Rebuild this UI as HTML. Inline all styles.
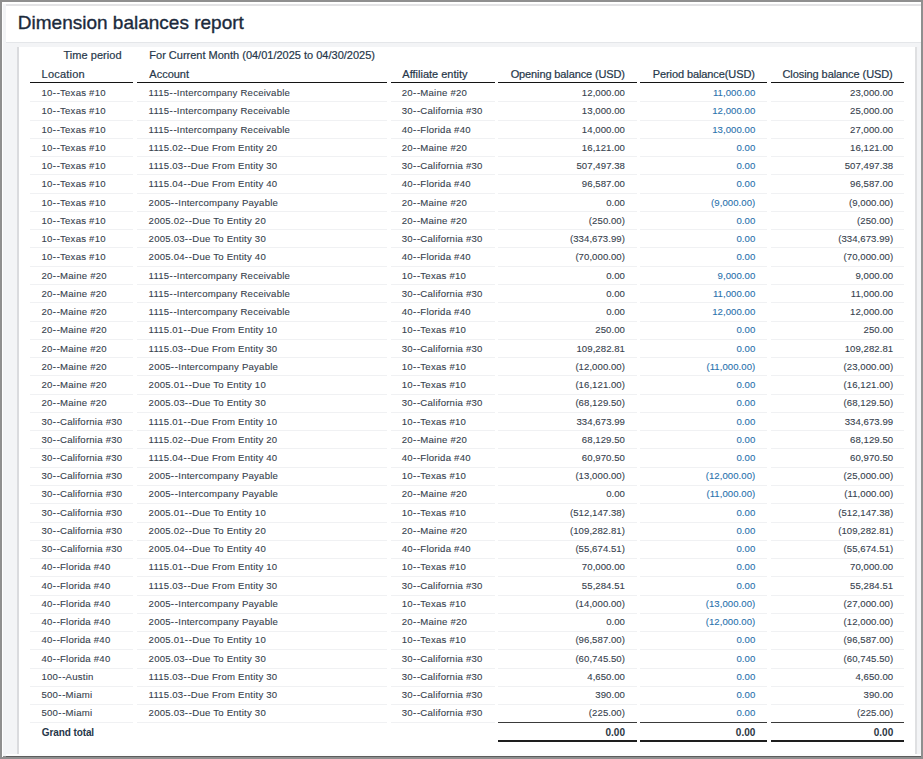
<!DOCTYPE html>
<html><head><meta charset="utf-8"><title>Dimension balances report</title>
<style>
*{box-sizing:border-box}
html,body{margin:0;padding:0}
body{width:923px;height:759px;overflow:hidden;position:relative;background:#8f8f8f;font-family:"Liberation Sans",sans-serif;-webkit-text-stroke:0.2px}
.a{position:absolute}
.t{position:absolute;white-space:nowrap;font-size:9.6px;line-height:12px;color:#36414d;letter-spacing:0.22px;-webkit-text-stroke:0.1px}
.r{text-align:right;letter-spacing:0.05px}
.h{position:absolute;white-space:nowrap;font-size:11px;line-height:12px;color:#26374a}
.lk{color:#2a72ad}
.ln{position:absolute;height:1px;background:#f0f1f3}
.hl{position:absolute;height:1px;background:#141414}
i{font-style:normal;letter-spacing:0.8px}
.b{font-weight:bold;font-size:10px;letter-spacing:-0.1px}
</style></head><body>
<div class="a" style="left:2px;top:2px;width:919px;height:754px;background:#f3f4f6"></div>
<div class="a" style="left:2px;top:2px;width:919px;height:2px;background:#fff"></div>
<div class="a" style="left:2px;top:2px;width:1px;height:755px;background:#fff"></div>
<div class="a" style="left:6px;top:4px;width:915px;height:2px;background:#e3e3e5"></div>
<div class="a" style="left:6px;top:6px;width:915px;height:36px;background:#fff"></div>
<div class="a" style="left:6px;top:42px;width:915px;height:1px;background:#e4e6e9"></div>
<div class="a" style="left:6px;top:43px;width:915px;height:711px;background:#f3f4f6"></div>
<div class="a" style="left:6px;top:754px;width:915px;height:2px;background:#fdfdfd"></div>
<div class="a" style="left:6px;top:756px;width:915px;height:1px;background:#5c5c5c"></div>
<div class="a" style="left:17px;top:47px;width:900px;height:707px;background:#fff;border-left:2px solid #dadbde;border-right:2px solid #dfe0e2"></div>
<div class="a" style="left:17.8px;top:11px;font-size:19px;line-height:24px;color:#1b2a3c;white-space:nowrap;-webkit-text-stroke:0.35px">Dimension balances report</div>

<div class="h r" style="right:801.4px;top:49.4px">Time period</div>
<div class="h" style="left:149.3px;top:49.4px">For Current Month (04/01/2025 to 04/30/2025)</div>
<div class="h" style="left:41.6px;top:67.5px;letter-spacing:0.2px">Location</div>
<div class="h" style="left:149.3px;top:67.5px">Account</div>
<div class="h" style="left:402.3px;top:67.5px">Affiliate entity</div>
<div class="h r" style="right:298.1px;top:67.5px;letter-spacing:-0.12px">Opening balance (USD)</div>
<div class="h r" style="right:168.2px;top:67.5px;letter-spacing:-0.1px">Period balance(USD)</div>
<div class="h r" style="right:30.3px;top:67.5px;letter-spacing:-0.08px">Closing balance (USD)</div>
<div class="hl" style="left:30px;width:103.4px;top:82px"></div>
<div class="hl" style="left:137px;width:250.3px;top:82px"></div>
<div class="hl" style="left:391px;width:103.7px;top:82px"></div>
<div class="hl" style="left:498.4px;width:138.3px;top:82px"></div>
<div class="hl" style="left:640.2px;width:126.7px;top:82px"></div>
<div class="hl" style="left:770.8px;width:133px;top:82px"></div>
<div class="t" style="left:41.5px;top:87.20px">10<i>-</i>-Texas #10</div>
<div class="t" style="left:148.6px;top:87.20px">1115<i>-</i>-Intercompany Receivable</div>
<div class="t" style="left:401.8px;top:87.20px">20<i>-</i>-Maine #20</div>
<div class="t r" style="right:298.0px;top:87.20px">12,000.00</div>
<div class="t r lk" style="right:167.7px;top:87.20px">11,000.00</div>
<div class="t r" style="right:29.8px;top:87.20px">23,000.00</div>
<div class="ln" style="left:30px;width:103.4px;top:101.30px"></div>
<div class="ln" style="left:137px;width:250.3px;top:101.30px"></div>
<div class="ln" style="left:391px;width:103.7px;top:101.30px"></div>
<div class="ln" style="left:498.4px;width:138.3px;top:101.30px"></div>
<div class="ln" style="left:640.2px;width:126.7px;top:101.30px"></div>
<div class="ln" style="left:770.8px;width:133px;top:101.30px"></div>
<div class="t" style="left:41.5px;top:105.44px">10<i>-</i>-Texas #10</div>
<div class="t" style="left:148.6px;top:105.44px">1115<i>-</i>-Intercompany Receivable</div>
<div class="t" style="left:401.8px;top:105.44px">30<i>-</i>-California #30</div>
<div class="t r" style="right:298.0px;top:105.44px">13,000.00</div>
<div class="t r lk" style="right:167.7px;top:105.44px">12,000.00</div>
<div class="t r" style="right:29.8px;top:105.44px">25,000.00</div>
<div class="ln" style="left:30px;width:103.4px;top:119.57px"></div>
<div class="ln" style="left:137px;width:250.3px;top:119.57px"></div>
<div class="ln" style="left:391px;width:103.7px;top:119.57px"></div>
<div class="ln" style="left:498.4px;width:138.3px;top:119.57px"></div>
<div class="ln" style="left:640.2px;width:126.7px;top:119.57px"></div>
<div class="ln" style="left:770.8px;width:133px;top:119.57px"></div>
<div class="t" style="left:41.5px;top:123.68px">10<i>-</i>-Texas #10</div>
<div class="t" style="left:148.6px;top:123.68px">1115<i>-</i>-Intercompany Receivable</div>
<div class="t" style="left:401.8px;top:123.68px">40<i>-</i>-Florida #40</div>
<div class="t r" style="right:298.0px;top:123.68px">14,000.00</div>
<div class="t r lk" style="right:167.7px;top:123.68px">13,000.00</div>
<div class="t r" style="right:29.8px;top:123.68px">27,000.00</div>
<div class="ln" style="left:30px;width:103.4px;top:137.84px"></div>
<div class="ln" style="left:137px;width:250.3px;top:137.84px"></div>
<div class="ln" style="left:391px;width:103.7px;top:137.84px"></div>
<div class="ln" style="left:498.4px;width:138.3px;top:137.84px"></div>
<div class="ln" style="left:640.2px;width:126.7px;top:137.84px"></div>
<div class="ln" style="left:770.8px;width:133px;top:137.84px"></div>
<div class="t" style="left:41.5px;top:141.92px">10<i>-</i>-Texas #10</div>
<div class="t" style="left:148.6px;top:141.92px">1115.02<i>-</i>-Due From Entity 20</div>
<div class="t" style="left:401.8px;top:141.92px">20<i>-</i>-Maine #20</div>
<div class="t r" style="right:298.0px;top:141.92px">16,121.00</div>
<div class="t r lk" style="right:167.7px;top:141.92px">0.00</div>
<div class="t r" style="right:29.8px;top:141.92px">16,121.00</div>
<div class="ln" style="left:30px;width:103.4px;top:156.11px"></div>
<div class="ln" style="left:137px;width:250.3px;top:156.11px"></div>
<div class="ln" style="left:391px;width:103.7px;top:156.11px"></div>
<div class="ln" style="left:498.4px;width:138.3px;top:156.11px"></div>
<div class="ln" style="left:640.2px;width:126.7px;top:156.11px"></div>
<div class="ln" style="left:770.8px;width:133px;top:156.11px"></div>
<div class="t" style="left:41.5px;top:160.16px">10<i>-</i>-Texas #10</div>
<div class="t" style="left:148.6px;top:160.16px">1115.03<i>-</i>-Due From Entity 30</div>
<div class="t" style="left:401.8px;top:160.16px">30<i>-</i>-California #30</div>
<div class="t r" style="right:298.0px;top:160.16px">507,497.38</div>
<div class="t r lk" style="right:167.7px;top:160.16px">0.00</div>
<div class="t r" style="right:29.8px;top:160.16px">507,497.38</div>
<div class="ln" style="left:30px;width:103.4px;top:174.38px"></div>
<div class="ln" style="left:137px;width:250.3px;top:174.38px"></div>
<div class="ln" style="left:391px;width:103.7px;top:174.38px"></div>
<div class="ln" style="left:498.4px;width:138.3px;top:174.38px"></div>
<div class="ln" style="left:640.2px;width:126.7px;top:174.38px"></div>
<div class="ln" style="left:770.8px;width:133px;top:174.38px"></div>
<div class="t" style="left:41.5px;top:178.40px">10<i>-</i>-Texas #10</div>
<div class="t" style="left:148.6px;top:178.40px">1115.04<i>-</i>-Due From Entity 40</div>
<div class="t" style="left:401.8px;top:178.40px">40<i>-</i>-Florida #40</div>
<div class="t r" style="right:298.0px;top:178.40px">96,587.00</div>
<div class="t r lk" style="right:167.7px;top:178.40px">0.00</div>
<div class="t r" style="right:29.8px;top:178.40px">96,587.00</div>
<div class="ln" style="left:30px;width:103.4px;top:192.65px"></div>
<div class="ln" style="left:137px;width:250.3px;top:192.65px"></div>
<div class="ln" style="left:391px;width:103.7px;top:192.65px"></div>
<div class="ln" style="left:498.4px;width:138.3px;top:192.65px"></div>
<div class="ln" style="left:640.2px;width:126.7px;top:192.65px"></div>
<div class="ln" style="left:770.8px;width:133px;top:192.65px"></div>
<div class="t" style="left:41.5px;top:196.64px">10<i>-</i>-Texas #10</div>
<div class="t" style="left:148.6px;top:196.64px">2005<i>-</i>-Intercompany Payable</div>
<div class="t" style="left:401.8px;top:196.64px">20<i>-</i>-Maine #20</div>
<div class="t r" style="right:298.0px;top:196.64px">0.00</div>
<div class="t r lk" style="right:167.7px;top:196.64px">(9,000.00)</div>
<div class="t r" style="right:29.8px;top:196.64px">(9,000.00)</div>
<div class="ln" style="left:30px;width:103.4px;top:210.92px"></div>
<div class="ln" style="left:137px;width:250.3px;top:210.92px"></div>
<div class="ln" style="left:391px;width:103.7px;top:210.92px"></div>
<div class="ln" style="left:498.4px;width:138.3px;top:210.92px"></div>
<div class="ln" style="left:640.2px;width:126.7px;top:210.92px"></div>
<div class="ln" style="left:770.8px;width:133px;top:210.92px"></div>
<div class="t" style="left:41.5px;top:214.88px">10<i>-</i>-Texas #10</div>
<div class="t" style="left:148.6px;top:214.88px">2005.02<i>-</i>-Due To Entity 20</div>
<div class="t" style="left:401.8px;top:214.88px">20<i>-</i>-Maine #20</div>
<div class="t r" style="right:298.0px;top:214.88px">(250.00)</div>
<div class="t r lk" style="right:167.7px;top:214.88px">0.00</div>
<div class="t r" style="right:29.8px;top:214.88px">(250.00)</div>
<div class="ln" style="left:30px;width:103.4px;top:229.19px"></div>
<div class="ln" style="left:137px;width:250.3px;top:229.19px"></div>
<div class="ln" style="left:391px;width:103.7px;top:229.19px"></div>
<div class="ln" style="left:498.4px;width:138.3px;top:229.19px"></div>
<div class="ln" style="left:640.2px;width:126.7px;top:229.19px"></div>
<div class="ln" style="left:770.8px;width:133px;top:229.19px"></div>
<div class="t" style="left:41.5px;top:233.12px">10<i>-</i>-Texas #10</div>
<div class="t" style="left:148.6px;top:233.12px">2005.03<i>-</i>-Due To Entity 30</div>
<div class="t" style="left:401.8px;top:233.12px">30<i>-</i>-California #30</div>
<div class="t r" style="right:298.0px;top:233.12px">(334,673.99)</div>
<div class="t r lk" style="right:167.7px;top:233.12px">0.00</div>
<div class="t r" style="right:29.8px;top:233.12px">(334,673.99)</div>
<div class="ln" style="left:30px;width:103.4px;top:247.46px"></div>
<div class="ln" style="left:137px;width:250.3px;top:247.46px"></div>
<div class="ln" style="left:391px;width:103.7px;top:247.46px"></div>
<div class="ln" style="left:498.4px;width:138.3px;top:247.46px"></div>
<div class="ln" style="left:640.2px;width:126.7px;top:247.46px"></div>
<div class="ln" style="left:770.8px;width:133px;top:247.46px"></div>
<div class="t" style="left:41.5px;top:251.36px">10<i>-</i>-Texas #10</div>
<div class="t" style="left:148.6px;top:251.36px">2005.04<i>-</i>-Due To Entity 40</div>
<div class="t" style="left:401.8px;top:251.36px">40<i>-</i>-Florida #40</div>
<div class="t r" style="right:298.0px;top:251.36px">(70,000.00)</div>
<div class="t r lk" style="right:167.7px;top:251.36px">0.00</div>
<div class="t r" style="right:29.8px;top:251.36px">(70,000.00)</div>
<div class="ln" style="left:30px;width:103.4px;top:265.73px"></div>
<div class="ln" style="left:137px;width:250.3px;top:265.73px"></div>
<div class="ln" style="left:391px;width:103.7px;top:265.73px"></div>
<div class="ln" style="left:498.4px;width:138.3px;top:265.73px"></div>
<div class="ln" style="left:640.2px;width:126.7px;top:265.73px"></div>
<div class="ln" style="left:770.8px;width:133px;top:265.73px"></div>
<div class="t" style="left:41.5px;top:269.60px">20<i>-</i>-Maine #20</div>
<div class="t" style="left:148.6px;top:269.60px">1115<i>-</i>-Intercompany Receivable</div>
<div class="t" style="left:401.8px;top:269.60px">10<i>-</i>-Texas #10</div>
<div class="t r" style="right:298.0px;top:269.60px">0.00</div>
<div class="t r lk" style="right:167.7px;top:269.60px">9,000.00</div>
<div class="t r" style="right:29.8px;top:269.60px">9,000.00</div>
<div class="ln" style="left:30px;width:103.4px;top:284.00px"></div>
<div class="ln" style="left:137px;width:250.3px;top:284.00px"></div>
<div class="ln" style="left:391px;width:103.7px;top:284.00px"></div>
<div class="ln" style="left:498.4px;width:138.3px;top:284.00px"></div>
<div class="ln" style="left:640.2px;width:126.7px;top:284.00px"></div>
<div class="ln" style="left:770.8px;width:133px;top:284.00px"></div>
<div class="t" style="left:41.5px;top:287.84px">20<i>-</i>-Maine #20</div>
<div class="t" style="left:148.6px;top:287.84px">1115<i>-</i>-Intercompany Receivable</div>
<div class="t" style="left:401.8px;top:287.84px">30<i>-</i>-California #30</div>
<div class="t r" style="right:298.0px;top:287.84px">0.00</div>
<div class="t r lk" style="right:167.7px;top:287.84px">11,000.00</div>
<div class="t r" style="right:29.8px;top:287.84px">11,000.00</div>
<div class="ln" style="left:30px;width:103.4px;top:302.27px"></div>
<div class="ln" style="left:137px;width:250.3px;top:302.27px"></div>
<div class="ln" style="left:391px;width:103.7px;top:302.27px"></div>
<div class="ln" style="left:498.4px;width:138.3px;top:302.27px"></div>
<div class="ln" style="left:640.2px;width:126.7px;top:302.27px"></div>
<div class="ln" style="left:770.8px;width:133px;top:302.27px"></div>
<div class="t" style="left:41.5px;top:306.08px">20<i>-</i>-Maine #20</div>
<div class="t" style="left:148.6px;top:306.08px">1115<i>-</i>-Intercompany Receivable</div>
<div class="t" style="left:401.8px;top:306.08px">40<i>-</i>-Florida #40</div>
<div class="t r" style="right:298.0px;top:306.08px">0.00</div>
<div class="t r lk" style="right:167.7px;top:306.08px">12,000.00</div>
<div class="t r" style="right:29.8px;top:306.08px">12,000.00</div>
<div class="ln" style="left:30px;width:103.4px;top:320.54px"></div>
<div class="ln" style="left:137px;width:250.3px;top:320.54px"></div>
<div class="ln" style="left:391px;width:103.7px;top:320.54px"></div>
<div class="ln" style="left:498.4px;width:138.3px;top:320.54px"></div>
<div class="ln" style="left:640.2px;width:126.7px;top:320.54px"></div>
<div class="ln" style="left:770.8px;width:133px;top:320.54px"></div>
<div class="t" style="left:41.5px;top:324.32px">20<i>-</i>-Maine #20</div>
<div class="t" style="left:148.6px;top:324.32px">1115.01<i>-</i>-Due From Entity 10</div>
<div class="t" style="left:401.8px;top:324.32px">10<i>-</i>-Texas #10</div>
<div class="t r" style="right:298.0px;top:324.32px">250.00</div>
<div class="t r lk" style="right:167.7px;top:324.32px">0.00</div>
<div class="t r" style="right:29.8px;top:324.32px">250.00</div>
<div class="ln" style="left:30px;width:103.4px;top:338.81px"></div>
<div class="ln" style="left:137px;width:250.3px;top:338.81px"></div>
<div class="ln" style="left:391px;width:103.7px;top:338.81px"></div>
<div class="ln" style="left:498.4px;width:138.3px;top:338.81px"></div>
<div class="ln" style="left:640.2px;width:126.7px;top:338.81px"></div>
<div class="ln" style="left:770.8px;width:133px;top:338.81px"></div>
<div class="t" style="left:41.5px;top:342.56px">20<i>-</i>-Maine #20</div>
<div class="t" style="left:148.6px;top:342.56px">1115.03<i>-</i>-Due From Entity 30</div>
<div class="t" style="left:401.8px;top:342.56px">30<i>-</i>-California #30</div>
<div class="t r" style="right:298.0px;top:342.56px">109,282.81</div>
<div class="t r lk" style="right:167.7px;top:342.56px">0.00</div>
<div class="t r" style="right:29.8px;top:342.56px">109,282.81</div>
<div class="ln" style="left:30px;width:103.4px;top:357.08px"></div>
<div class="ln" style="left:137px;width:250.3px;top:357.08px"></div>
<div class="ln" style="left:391px;width:103.7px;top:357.08px"></div>
<div class="ln" style="left:498.4px;width:138.3px;top:357.08px"></div>
<div class="ln" style="left:640.2px;width:126.7px;top:357.08px"></div>
<div class="ln" style="left:770.8px;width:133px;top:357.08px"></div>
<div class="t" style="left:41.5px;top:360.80px">20<i>-</i>-Maine #20</div>
<div class="t" style="left:148.6px;top:360.80px">2005<i>-</i>-Intercompany Payable</div>
<div class="t" style="left:401.8px;top:360.80px">10<i>-</i>-Texas #10</div>
<div class="t r" style="right:298.0px;top:360.80px">(12,000.00)</div>
<div class="t r lk" style="right:167.7px;top:360.80px">(11,000.00)</div>
<div class="t r" style="right:29.8px;top:360.80px">(23,000.00)</div>
<div class="ln" style="left:30px;width:103.4px;top:375.35px"></div>
<div class="ln" style="left:137px;width:250.3px;top:375.35px"></div>
<div class="ln" style="left:391px;width:103.7px;top:375.35px"></div>
<div class="ln" style="left:498.4px;width:138.3px;top:375.35px"></div>
<div class="ln" style="left:640.2px;width:126.7px;top:375.35px"></div>
<div class="ln" style="left:770.8px;width:133px;top:375.35px"></div>
<div class="t" style="left:41.5px;top:379.04px">20<i>-</i>-Maine #20</div>
<div class="t" style="left:148.6px;top:379.04px">2005.01<i>-</i>-Due To Entity 10</div>
<div class="t" style="left:401.8px;top:379.04px">10<i>-</i>-Texas #10</div>
<div class="t r" style="right:298.0px;top:379.04px">(16,121.00)</div>
<div class="t r lk" style="right:167.7px;top:379.04px">0.00</div>
<div class="t r" style="right:29.8px;top:379.04px">(16,121.00)</div>
<div class="ln" style="left:30px;width:103.4px;top:393.62px"></div>
<div class="ln" style="left:137px;width:250.3px;top:393.62px"></div>
<div class="ln" style="left:391px;width:103.7px;top:393.62px"></div>
<div class="ln" style="left:498.4px;width:138.3px;top:393.62px"></div>
<div class="ln" style="left:640.2px;width:126.7px;top:393.62px"></div>
<div class="ln" style="left:770.8px;width:133px;top:393.62px"></div>
<div class="t" style="left:41.5px;top:397.28px">20<i>-</i>-Maine #20</div>
<div class="t" style="left:148.6px;top:397.28px">2005.03<i>-</i>-Due To Entity 30</div>
<div class="t" style="left:401.8px;top:397.28px">30<i>-</i>-California #30</div>
<div class="t r" style="right:298.0px;top:397.28px">(68,129.50)</div>
<div class="t r lk" style="right:167.7px;top:397.28px">0.00</div>
<div class="t r" style="right:29.8px;top:397.28px">(68,129.50)</div>
<div class="ln" style="left:30px;width:103.4px;top:411.89px"></div>
<div class="ln" style="left:137px;width:250.3px;top:411.89px"></div>
<div class="ln" style="left:391px;width:103.7px;top:411.89px"></div>
<div class="ln" style="left:498.4px;width:138.3px;top:411.89px"></div>
<div class="ln" style="left:640.2px;width:126.7px;top:411.89px"></div>
<div class="ln" style="left:770.8px;width:133px;top:411.89px"></div>
<div class="t" style="left:41.5px;top:415.52px">30<i>-</i>-California #30</div>
<div class="t" style="left:148.6px;top:415.52px">1115.01<i>-</i>-Due From Entity 10</div>
<div class="t" style="left:401.8px;top:415.52px">10<i>-</i>-Texas #10</div>
<div class="t r" style="right:298.0px;top:415.52px">334,673.99</div>
<div class="t r lk" style="right:167.7px;top:415.52px">0.00</div>
<div class="t r" style="right:29.8px;top:415.52px">334,673.99</div>
<div class="ln" style="left:30px;width:103.4px;top:430.16px"></div>
<div class="ln" style="left:137px;width:250.3px;top:430.16px"></div>
<div class="ln" style="left:391px;width:103.7px;top:430.16px"></div>
<div class="ln" style="left:498.4px;width:138.3px;top:430.16px"></div>
<div class="ln" style="left:640.2px;width:126.7px;top:430.16px"></div>
<div class="ln" style="left:770.8px;width:133px;top:430.16px"></div>
<div class="t" style="left:41.5px;top:433.76px">30<i>-</i>-California #30</div>
<div class="t" style="left:148.6px;top:433.76px">1115.02<i>-</i>-Due From Entity 20</div>
<div class="t" style="left:401.8px;top:433.76px">20<i>-</i>-Maine #20</div>
<div class="t r" style="right:298.0px;top:433.76px">68,129.50</div>
<div class="t r lk" style="right:167.7px;top:433.76px">0.00</div>
<div class="t r" style="right:29.8px;top:433.76px">68,129.50</div>
<div class="ln" style="left:30px;width:103.4px;top:448.43px"></div>
<div class="ln" style="left:137px;width:250.3px;top:448.43px"></div>
<div class="ln" style="left:391px;width:103.7px;top:448.43px"></div>
<div class="ln" style="left:498.4px;width:138.3px;top:448.43px"></div>
<div class="ln" style="left:640.2px;width:126.7px;top:448.43px"></div>
<div class="ln" style="left:770.8px;width:133px;top:448.43px"></div>
<div class="t" style="left:41.5px;top:452.00px">30<i>-</i>-California #30</div>
<div class="t" style="left:148.6px;top:452.00px">1115.04<i>-</i>-Due From Entity 40</div>
<div class="t" style="left:401.8px;top:452.00px">40<i>-</i>-Florida #40</div>
<div class="t r" style="right:298.0px;top:452.00px">60,970.50</div>
<div class="t r lk" style="right:167.7px;top:452.00px">0.00</div>
<div class="t r" style="right:29.8px;top:452.00px">60,970.50</div>
<div class="ln" style="left:30px;width:103.4px;top:466.70px"></div>
<div class="ln" style="left:137px;width:250.3px;top:466.70px"></div>
<div class="ln" style="left:391px;width:103.7px;top:466.70px"></div>
<div class="ln" style="left:498.4px;width:138.3px;top:466.70px"></div>
<div class="ln" style="left:640.2px;width:126.7px;top:466.70px"></div>
<div class="ln" style="left:770.8px;width:133px;top:466.70px"></div>
<div class="t" style="left:41.5px;top:470.24px">30<i>-</i>-California #30</div>
<div class="t" style="left:148.6px;top:470.24px">2005<i>-</i>-Intercompany Payable</div>
<div class="t" style="left:401.8px;top:470.24px">10<i>-</i>-Texas #10</div>
<div class="t r" style="right:298.0px;top:470.24px">(13,000.00)</div>
<div class="t r lk" style="right:167.7px;top:470.24px">(12,000.00)</div>
<div class="t r" style="right:29.8px;top:470.24px">(25,000.00)</div>
<div class="ln" style="left:30px;width:103.4px;top:484.97px"></div>
<div class="ln" style="left:137px;width:250.3px;top:484.97px"></div>
<div class="ln" style="left:391px;width:103.7px;top:484.97px"></div>
<div class="ln" style="left:498.4px;width:138.3px;top:484.97px"></div>
<div class="ln" style="left:640.2px;width:126.7px;top:484.97px"></div>
<div class="ln" style="left:770.8px;width:133px;top:484.97px"></div>
<div class="t" style="left:41.5px;top:488.48px">30<i>-</i>-California #30</div>
<div class="t" style="left:148.6px;top:488.48px">2005<i>-</i>-Intercompany Payable</div>
<div class="t" style="left:401.8px;top:488.48px">20<i>-</i>-Maine #20</div>
<div class="t r" style="right:298.0px;top:488.48px">0.00</div>
<div class="t r lk" style="right:167.7px;top:488.48px">(11,000.00)</div>
<div class="t r" style="right:29.8px;top:488.48px">(11,000.00)</div>
<div class="ln" style="left:30px;width:103.4px;top:503.24px"></div>
<div class="ln" style="left:137px;width:250.3px;top:503.24px"></div>
<div class="ln" style="left:391px;width:103.7px;top:503.24px"></div>
<div class="ln" style="left:498.4px;width:138.3px;top:503.24px"></div>
<div class="ln" style="left:640.2px;width:126.7px;top:503.24px"></div>
<div class="ln" style="left:770.8px;width:133px;top:503.24px"></div>
<div class="t" style="left:41.5px;top:506.72px">30<i>-</i>-California #30</div>
<div class="t" style="left:148.6px;top:506.72px">2005.01<i>-</i>-Due To Entity 10</div>
<div class="t" style="left:401.8px;top:506.72px">10<i>-</i>-Texas #10</div>
<div class="t r" style="right:298.0px;top:506.72px">(512,147.38)</div>
<div class="t r lk" style="right:167.7px;top:506.72px">0.00</div>
<div class="t r" style="right:29.8px;top:506.72px">(512,147.38)</div>
<div class="ln" style="left:30px;width:103.4px;top:521.51px"></div>
<div class="ln" style="left:137px;width:250.3px;top:521.51px"></div>
<div class="ln" style="left:391px;width:103.7px;top:521.51px"></div>
<div class="ln" style="left:498.4px;width:138.3px;top:521.51px"></div>
<div class="ln" style="left:640.2px;width:126.7px;top:521.51px"></div>
<div class="ln" style="left:770.8px;width:133px;top:521.51px"></div>
<div class="t" style="left:41.5px;top:524.96px">30<i>-</i>-California #30</div>
<div class="t" style="left:148.6px;top:524.96px">2005.02<i>-</i>-Due To Entity 20</div>
<div class="t" style="left:401.8px;top:524.96px">20<i>-</i>-Maine #20</div>
<div class="t r" style="right:298.0px;top:524.96px">(109,282.81)</div>
<div class="t r lk" style="right:167.7px;top:524.96px">0.00</div>
<div class="t r" style="right:29.8px;top:524.96px">(109,282.81)</div>
<div class="ln" style="left:30px;width:103.4px;top:539.78px"></div>
<div class="ln" style="left:137px;width:250.3px;top:539.78px"></div>
<div class="ln" style="left:391px;width:103.7px;top:539.78px"></div>
<div class="ln" style="left:498.4px;width:138.3px;top:539.78px"></div>
<div class="ln" style="left:640.2px;width:126.7px;top:539.78px"></div>
<div class="ln" style="left:770.8px;width:133px;top:539.78px"></div>
<div class="t" style="left:41.5px;top:543.20px">30<i>-</i>-California #30</div>
<div class="t" style="left:148.6px;top:543.20px">2005.04<i>-</i>-Due To Entity 40</div>
<div class="t" style="left:401.8px;top:543.20px">40<i>-</i>-Florida #40</div>
<div class="t r" style="right:298.0px;top:543.20px">(55,674.51)</div>
<div class="t r lk" style="right:167.7px;top:543.20px">0.00</div>
<div class="t r" style="right:29.8px;top:543.20px">(55,674.51)</div>
<div class="ln" style="left:30px;width:103.4px;top:558.05px"></div>
<div class="ln" style="left:137px;width:250.3px;top:558.05px"></div>
<div class="ln" style="left:391px;width:103.7px;top:558.05px"></div>
<div class="ln" style="left:498.4px;width:138.3px;top:558.05px"></div>
<div class="ln" style="left:640.2px;width:126.7px;top:558.05px"></div>
<div class="ln" style="left:770.8px;width:133px;top:558.05px"></div>
<div class="t" style="left:41.5px;top:561.44px">40<i>-</i>-Florida #40</div>
<div class="t" style="left:148.6px;top:561.44px">1115.01<i>-</i>-Due From Entity 10</div>
<div class="t" style="left:401.8px;top:561.44px">10<i>-</i>-Texas #10</div>
<div class="t r" style="right:298.0px;top:561.44px">70,000.00</div>
<div class="t r lk" style="right:167.7px;top:561.44px">0.00</div>
<div class="t r" style="right:29.8px;top:561.44px">70,000.00</div>
<div class="ln" style="left:30px;width:103.4px;top:576.32px"></div>
<div class="ln" style="left:137px;width:250.3px;top:576.32px"></div>
<div class="ln" style="left:391px;width:103.7px;top:576.32px"></div>
<div class="ln" style="left:498.4px;width:138.3px;top:576.32px"></div>
<div class="ln" style="left:640.2px;width:126.7px;top:576.32px"></div>
<div class="ln" style="left:770.8px;width:133px;top:576.32px"></div>
<div class="t" style="left:41.5px;top:579.68px">40<i>-</i>-Florida #40</div>
<div class="t" style="left:148.6px;top:579.68px">1115.03<i>-</i>-Due From Entity 30</div>
<div class="t" style="left:401.8px;top:579.68px">30<i>-</i>-California #30</div>
<div class="t r" style="right:298.0px;top:579.68px">55,284.51</div>
<div class="t r lk" style="right:167.7px;top:579.68px">0.00</div>
<div class="t r" style="right:29.8px;top:579.68px">55,284.51</div>
<div class="ln" style="left:30px;width:103.4px;top:594.59px"></div>
<div class="ln" style="left:137px;width:250.3px;top:594.59px"></div>
<div class="ln" style="left:391px;width:103.7px;top:594.59px"></div>
<div class="ln" style="left:498.4px;width:138.3px;top:594.59px"></div>
<div class="ln" style="left:640.2px;width:126.7px;top:594.59px"></div>
<div class="ln" style="left:770.8px;width:133px;top:594.59px"></div>
<div class="t" style="left:41.5px;top:597.92px">40<i>-</i>-Florida #40</div>
<div class="t" style="left:148.6px;top:597.92px">2005<i>-</i>-Intercompany Payable</div>
<div class="t" style="left:401.8px;top:597.92px">10<i>-</i>-Texas #10</div>
<div class="t r" style="right:298.0px;top:597.92px">(14,000.00)</div>
<div class="t r lk" style="right:167.7px;top:597.92px">(13,000.00)</div>
<div class="t r" style="right:29.8px;top:597.92px">(27,000.00)</div>
<div class="ln" style="left:30px;width:103.4px;top:612.86px"></div>
<div class="ln" style="left:137px;width:250.3px;top:612.86px"></div>
<div class="ln" style="left:391px;width:103.7px;top:612.86px"></div>
<div class="ln" style="left:498.4px;width:138.3px;top:612.86px"></div>
<div class="ln" style="left:640.2px;width:126.7px;top:612.86px"></div>
<div class="ln" style="left:770.8px;width:133px;top:612.86px"></div>
<div class="t" style="left:41.5px;top:616.16px">40<i>-</i>-Florida #40</div>
<div class="t" style="left:148.6px;top:616.16px">2005<i>-</i>-Intercompany Payable</div>
<div class="t" style="left:401.8px;top:616.16px">20<i>-</i>-Maine #20</div>
<div class="t r" style="right:298.0px;top:616.16px">0.00</div>
<div class="t r lk" style="right:167.7px;top:616.16px">(12,000.00)</div>
<div class="t r" style="right:29.8px;top:616.16px">(12,000.00)</div>
<div class="ln" style="left:30px;width:103.4px;top:631.13px"></div>
<div class="ln" style="left:137px;width:250.3px;top:631.13px"></div>
<div class="ln" style="left:391px;width:103.7px;top:631.13px"></div>
<div class="ln" style="left:498.4px;width:138.3px;top:631.13px"></div>
<div class="ln" style="left:640.2px;width:126.7px;top:631.13px"></div>
<div class="ln" style="left:770.8px;width:133px;top:631.13px"></div>
<div class="t" style="left:41.5px;top:634.40px">40<i>-</i>-Florida #40</div>
<div class="t" style="left:148.6px;top:634.40px">2005.01<i>-</i>-Due To Entity 10</div>
<div class="t" style="left:401.8px;top:634.40px">10<i>-</i>-Texas #10</div>
<div class="t r" style="right:298.0px;top:634.40px">(96,587.00)</div>
<div class="t r lk" style="right:167.7px;top:634.40px">0.00</div>
<div class="t r" style="right:29.8px;top:634.40px">(96,587.00)</div>
<div class="ln" style="left:30px;width:103.4px;top:649.40px"></div>
<div class="ln" style="left:137px;width:250.3px;top:649.40px"></div>
<div class="ln" style="left:391px;width:103.7px;top:649.40px"></div>
<div class="ln" style="left:498.4px;width:138.3px;top:649.40px"></div>
<div class="ln" style="left:640.2px;width:126.7px;top:649.40px"></div>
<div class="ln" style="left:770.8px;width:133px;top:649.40px"></div>
<div class="t" style="left:41.5px;top:652.64px">40<i>-</i>-Florida #40</div>
<div class="t" style="left:148.6px;top:652.64px">2005.03<i>-</i>-Due To Entity 30</div>
<div class="t" style="left:401.8px;top:652.64px">30<i>-</i>-California #30</div>
<div class="t r" style="right:298.0px;top:652.64px">(60,745.50)</div>
<div class="t r lk" style="right:167.7px;top:652.64px">0.00</div>
<div class="t r" style="right:29.8px;top:652.64px">(60,745.50)</div>
<div class="ln" style="left:30px;width:103.4px;top:667.67px"></div>
<div class="ln" style="left:137px;width:250.3px;top:667.67px"></div>
<div class="ln" style="left:391px;width:103.7px;top:667.67px"></div>
<div class="ln" style="left:498.4px;width:138.3px;top:667.67px"></div>
<div class="ln" style="left:640.2px;width:126.7px;top:667.67px"></div>
<div class="ln" style="left:770.8px;width:133px;top:667.67px"></div>
<div class="t" style="left:41.5px;top:670.88px">100<i>-</i>-Austin</div>
<div class="t" style="left:148.6px;top:670.88px">1115.03<i>-</i>-Due From Entity 30</div>
<div class="t" style="left:401.8px;top:670.88px">30<i>-</i>-California #30</div>
<div class="t r" style="right:298.0px;top:670.88px">4,650.00</div>
<div class="t r lk" style="right:167.7px;top:670.88px">0.00</div>
<div class="t r" style="right:29.8px;top:670.88px">4,650.00</div>
<div class="ln" style="left:30px;width:103.4px;top:685.94px"></div>
<div class="ln" style="left:137px;width:250.3px;top:685.94px"></div>
<div class="ln" style="left:391px;width:103.7px;top:685.94px"></div>
<div class="ln" style="left:498.4px;width:138.3px;top:685.94px"></div>
<div class="ln" style="left:640.2px;width:126.7px;top:685.94px"></div>
<div class="ln" style="left:770.8px;width:133px;top:685.94px"></div>
<div class="t" style="left:41.5px;top:689.12px">500<i>-</i>-Miami</div>
<div class="t" style="left:148.6px;top:689.12px">1115.03<i>-</i>-Due From Entity 30</div>
<div class="t" style="left:401.8px;top:689.12px">30<i>-</i>-California #30</div>
<div class="t r" style="right:298.0px;top:689.12px">390.00</div>
<div class="t r lk" style="right:167.7px;top:689.12px">0.00</div>
<div class="t r" style="right:29.8px;top:689.12px">390.00</div>
<div class="ln" style="left:30px;width:103.4px;top:704.21px"></div>
<div class="ln" style="left:137px;width:250.3px;top:704.21px"></div>
<div class="ln" style="left:391px;width:103.7px;top:704.21px"></div>
<div class="ln" style="left:498.4px;width:138.3px;top:704.21px"></div>
<div class="ln" style="left:640.2px;width:126.7px;top:704.21px"></div>
<div class="ln" style="left:770.8px;width:133px;top:704.21px"></div>
<div class="t" style="left:41.5px;top:707.36px">500<i>-</i>-Miami</div>
<div class="t" style="left:148.6px;top:707.36px">2005.03<i>-</i>-Due To Entity 30</div>
<div class="t" style="left:401.8px;top:707.36px">30<i>-</i>-California #30</div>
<div class="t r" style="right:298.0px;top:707.36px">(225.00)</div>
<div class="t r lk" style="right:167.7px;top:707.36px">0.00</div>
<div class="t r" style="right:29.8px;top:707.36px">(225.00)</div>
<div class="ln" style="left:30px;width:103.4px;top:722.48px"></div>
<div class="ln" style="left:137px;width:250.3px;top:722.48px"></div>
<div class="ln" style="left:391px;width:103.7px;top:722.48px"></div>
<div class="ln" style="left:498.4px;width:138.3px;top:721.6px;background:#3a3a3a"></div>
<div class="ln" style="left:640.2px;width:126.7px;top:721.6px;background:#3a3a3a"></div>
<div class="ln" style="left:770.8px;width:133px;top:721.6px;background:#3a3a3a"></div>
<div class="t b" style="left:41.8px;top:726.60px;color:#26374a;-webkit-text-stroke:0">Grand total</div>
<div class="t r" style="right:298.0px;top:726.80px;font-weight:bold;font-size:10px;letter-spacing:0;color:#2b3642;-webkit-text-stroke:0">0.00</div>
<div class="t r" style="right:167.7px;top:726.80px;font-weight:bold;font-size:10px;letter-spacing:0;color:#2b3642;-webkit-text-stroke:0">0.00</div>
<div class="t r" style="right:29.8px;top:726.80px;font-weight:bold;font-size:10px;letter-spacing:0;color:#2b3642;-webkit-text-stroke:0">0.00</div>
<div class="a" style="left:498.4px;width:138.3px;top:740px;height:2px;background:#1e1e1e"></div>
<div class="a" style="left:640.2px;width:126.7px;top:740px;height:2px;background:#1e1e1e"></div>
<div class="a" style="left:770.8px;width:133px;top:740px;height:2px;background:#1e1e1e"></div>
</body></html>
